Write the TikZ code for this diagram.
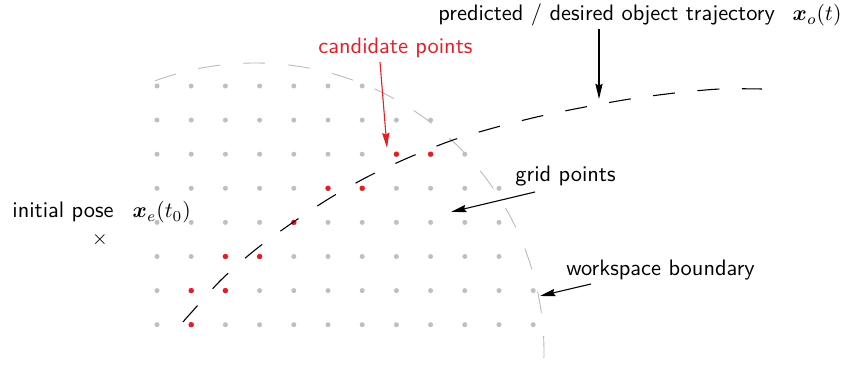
\documentclass[tikz,border=0pt]{standalone}
\usepackage{amsmath}
\usepackage{bm}
\usetikzlibrary{arrows.meta}
\definecolor{candred}{RGB}{232,28,36}
\definecolor{dotgrey}{RGB}{190,190,196}
\definecolor{wsgrey}{RGB}{185,185,185}
\begin{document}
\begin{tikzpicture}[x=0.46pt,y=-0.46pt,
  font=\fontsize{10.3}{12.4}\selectfont\sffamily,
  gdot/.style={circle,fill=dotgrey,inner sep=0pt,minimum size=2.3pt},
  rdot/.style={circle,fill=candred,inner sep=0pt,minimum size=2.5pt},
  lbl/.style={inner sep=0pt,anchor=base west},
  pointer/.style={-{Stealth[length=7pt,width=3.3pt,inset=0.8pt]},line width=0.5pt},
  traj/.style={line width=0.5pt,dash pattern=on 10.1pt off 10.4pt},
  boundary/.style={wsgrey,line width=0.4pt,dash pattern=on 10.1pt off 10.6pt}]
\useasboundingbox (0,0) rectangle (849,367);

% workspace boundary
\draw[boundary] (255,352) ++(249.8:289) arc[start angle=249.8,end angle=361.6,radius=289];

% grid points
\foreach \n [count=\r] in {7,9,10,11,11,11,12,12}{
  \foreach \c in {1,...,\n}{
    \node[gdot] (g-\r-\c) at ({157+34.2*(\c-1)},{86+34.1*(\r-1)}) {};
  }
}
% candidate points
\foreach \r/\c in {3/8,3/9,4/6,4/7,5/5,6/3,6/4,7/2,7/3,8/2}{
  \node[rdot] (c-\r-\c) at (g-\r-\c) {};
}

% trajectory
\draw[traj] plot[smooth,tension=0.5] coordinates {(183,322) (190,314) (221,280) (255,250) (292,223) (330,198) (369,176) (410,157) (453,140) (497,127) (541,116) (585,107) (630,99) (675,93) (720,89) (762,89)};

% labels
\node[lbl] (predlbl) at (438,21) {predicted / desired object trajectory\hspace{0.8em}$\bm{x}_o(t)$};
\node[lbl,text=candred] (candlbl) at (318,54) {candidate points};
\node[lbl] (gridlbl) at (515,182) {grid points};
\node[lbl] (wslbl) at (566,276) {workspace boundary};
\node[lbl] (initlbl) at (12,218) {initial pose\hspace{0.85em}$\bm{x}_e(t_0)$};
\node[inner sep=0pt] (initpose) at (100,240) {\small$\times$};

% pointers
\coordinate (predA) at (599,29);
\coordinate (predB) at (599,99);
\coordinate (candA) at (380,62);
\coordinate (candB) at (387,148);
\coordinate (gridA) at (535,192);
\coordinate (gridB) at (451,212);
\coordinate (wsA) at (591,284);
\coordinate (wsB) at (540,296);
\draw[pointer] (predA) -- (predB);
\draw[pointer,candred] (candA) -- (candB);
\draw[pointer] (gridA) -- (gridB);
\draw[pointer] (wsA) -- (wsB);
\end{tikzpicture}
\end{document}
